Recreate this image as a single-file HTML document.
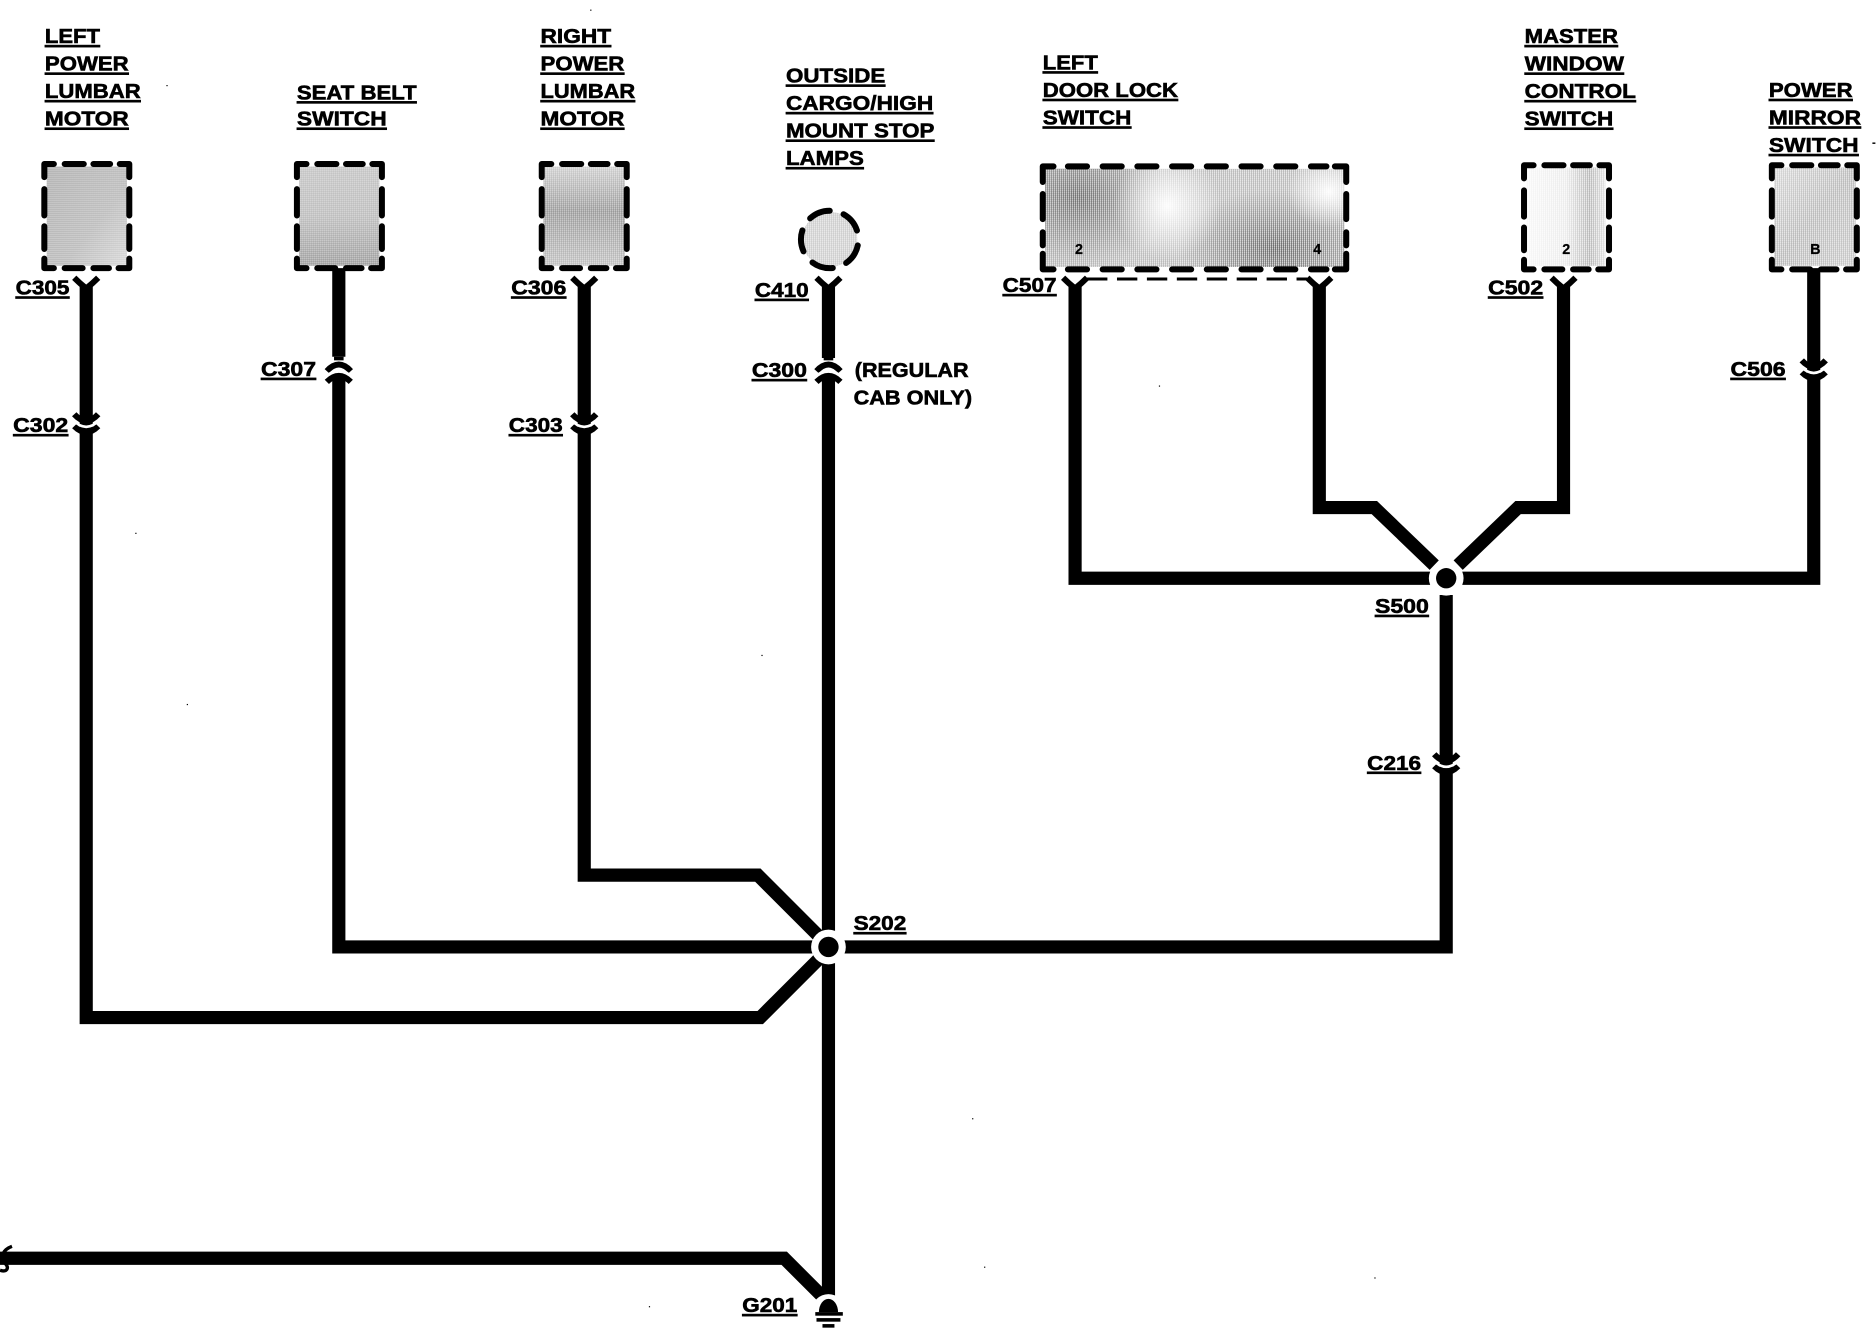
<!DOCTYPE html>
<html>
<head>
<meta charset="utf-8">
<style>
html,body{margin:0;padding:0;background:#fff}
svg{display:block}
text{font-family:"Liberation Sans",Arial,sans-serif;font-weight:bold;font-size:17px;fill:#000;stroke:#000;stroke-width:.5px}
.u{text-decoration:underline}
.n{font-size:12px;stroke-width:.2px}
.w{fill:none;stroke:#000;stroke-width:11;stroke-linejoin:miter}
.d{fill:none;stroke:#000;stroke-width:5;stroke-linecap:round;stroke-linejoin:round}
.a{fill:none;stroke:#000;stroke-width:5;stroke-linecap:butt}
.g{fill:none;stroke:#fff;stroke-width:2.2}
</style>
</head>
<body>
<svg xmlns="http://www.w3.org/2000/svg" width="1876" height="1328" viewBox="0 0 1567 1109.28">
<defs>
<pattern id="p" width="1.67" height="1.67" patternUnits="userSpaceOnUse"><circle cx=".84" cy=".84" r=".62" fill="#fff"/></pattern>
<linearGradient id="g1" x1="0" y1="0" x2="1" y2="1"><stop offset="0" stop-color="#8a8a8a"/><stop offset=".6" stop-color="#9c9c9c"/><stop offset="1" stop-color="#c4c4c4"/></linearGradient>
<linearGradient id="g2" x1="0" y1="0" x2="0" y2="1"><stop offset="0" stop-color="#aaa"/><stop offset=".5" stop-color="#a0a0a0"/><stop offset="1" stop-color="#747474"/></linearGradient>
<linearGradient id="g3" x1="0" y1="0" x2="0" y2="1"><stop offset="0" stop-color="#bbb"/><stop offset=".45" stop-color="#747474"/><stop offset="1" stop-color="#aaa"/></linearGradient>
<linearGradient id="g5" x1="0" y1="0" x2="1" y2="0"><stop offset="0" stop-color="#f6f6f6"/><stop offset=".5" stop-color="#e8e8e8"/><stop offset=".8" stop-color="#aaa"/><stop offset="1" stop-color="#ddd"/></linearGradient>
<linearGradient id="g6" x1="0" y1="0" x2="1" y2="1"><stop offset="0" stop-color="#ccc"/><stop offset=".5" stop-color="#aaa"/><stop offset="1" stop-color="#bbb"/></linearGradient>
<radialGradient id="dk" cx=".5" cy=".5" r=".5"><stop offset="0" stop-color="#444" stop-opacity=".9"/><stop offset="1" stop-color="#444" stop-opacity="0"/></radialGradient>
<radialGradient id="lt" cx=".5" cy=".5" r=".5"><stop offset="0" stop-color="#fff" stop-opacity=".95"/><stop offset="1" stop-color="#fff" stop-opacity="0"/></radialGradient>
<clipPath id="dc"><rect x="873" y="141" width="250" height="82"/></clipPath>
<g id="bx">
<path class="d" d="M0 11V0H8M17 0H33M41 0H55M63 0H71V11M71 21V43M71 52V71M71 79V87H62M54 87H41M32 87H17M8 87H0V79M0 71V52M0 43V21"/>
</g>
<g id="top"><path class="a" d="M-10 -4Q-5 1 0 5Q5 1 10 -4"/><path d="M-5 0L0 4L5 0V8H-5Z"/></g>
<g id="dn"><path class="a" d="M-10 -8Q0 3 10 -8"/><path class="a" d="M-10 2Q0 12 10 2"/><path class="g" d="M-11 -3Q0 8 11 -3"/></g>
<g id="up"><path class="a" d="M-10 4Q0 -7 10 4"/><path class="a" d="M-10 13Q0 3 10 13"/><path d="M-4 -8H4V-5H-4Z"/><path class="g" d="M-11 9Q0 -2 11 9"/></g>
</defs>

<!-- component fills -->
<rect x="39" y="139" width="67" height="83" fill="url(#g1)"/><rect x="39" y="139" width="67" height="83" fill="url(#p)"/>
<rect x="250" y="139" width="67" height="83" fill="url(#g2)"/><rect x="250" y="139" width="67" height="83" fill="url(#p)"/>
<rect x="454" y="139" width="68" height="83" fill="url(#g3)"/><rect x="454" y="139" width="68" height="83" fill="url(#p)"/>
<g clip-path="url(#dc)">
<rect x="873" y="141" width="250" height="82" fill="#aeaeae"/>
<ellipse cx="900" cy="165" rx="75" ry="60" fill="url(#dk)"/>
<ellipse cx="1065" cy="208" rx="80" ry="50" fill="url(#dk)"/>
<ellipse cx="975" cy="172" rx="45" ry="45" fill="url(#lt)"/>
<ellipse cx="1110" cy="160" rx="35" ry="30" fill="url(#lt)"/>
<rect x="873" y="141" width="250" height="82" fill="url(#p)"/>
</g>
<rect x="1275" y="140" width="66" height="82" fill="url(#g5)"/><rect x="1275" y="140" width="66" height="82" fill="url(#p)"/>
<rect x="1482" y="140" width="68" height="82" fill="url(#g6)"/><rect x="1482" y="140" width="68" height="82" fill="url(#p)"/>
<circle cx="693" cy="200" r="23" fill="#c0c0c0"/><circle cx="693" cy="200" r="23" fill="url(#p)"/>

<!-- dashed outlines -->
<use href="#bx" x="37" y="137"/>
<use href="#bx" x="248" y="137"/>
<use href="#bx" x="452.5" y="137"/>
<use href="#bx" x="1273" y="138"/>
<use href="#bx" x="1480" y="138"/>
<path class="d" d="M871 152V139H880M1115 139H1124.5V152M1124.5 212V225H1115M880 225H871V212"/>
<path class="d" stroke-dasharray="16 13" d="M892 139H1108"/>
<path class="d" stroke-dasharray="16 13" d="M892 225H1108"/>
<path class="d" stroke-dasharray="21 11" d="M871 162V205"/>
<path class="d" stroke-dasharray="21 11" d="M1124.5 162V205"/>
<ellipse cx="693" cy="200" rx="24" ry="24" class="d" stroke-dasharray="18 12" stroke-dashoffset="25"/>
<path d="M908 233H1092" fill="none" stroke="#000" stroke-width="2.5" stroke-dasharray="17 8"/>

<!-- wires -->
<path class="w" d="M72 238V850H635L690 795"/>
<path class="w" d="M283 224V298M283 316V791H692"/>
<path class="w" d="M488 238V731H633L690 788"/>
<path class="w" d="M692 238V299M692 316V1090"/>
<path class="w" d="M692 791H1208V497"/>
<path class="w" d="M0 1051H655L692 1088"/>
<path class="w" d="M898 238V483H1515V224"/>
<path class="w" d="M1102 238V424H1148L1198 472"/>
<path class="w" d="M1306 238V424H1268L1218 472"/>

<!-- splices -->
<circle cx="692" cy="791" r="14.5" fill="#fff"/><circle cx="692" cy="791" r="8.5"/>
<circle cx="1208" cy="483" r="14.5" fill="#fff"/><circle cx="1208" cy="483" r="8.5"/>

<!-- connectors -->
<use href="#top" x="72" y="236"/>
<use href="#top" x="488" y="236"/>
<use href="#top" x="692" y="236"/>
<use href="#top" x="898" y="236"/>
<use href="#top" x="1102" y="236"/>
<use href="#top" x="1306" y="236"/>
<use href="#dn" x="72" y="354"/>
<use href="#dn" x="488" y="354"/>
<use href="#dn" x="1515" y="309"/>
<use href="#dn" x="1208" y="638"/>
<use href="#up" x="283" y="306"/>
<use href="#up" x="692" y="306"/>

<!-- ground -->
<circle cx="692" cy="1095" r="14" fill="#fff"/>
<path d="M684 1096A8 11 0 0 1 700 1096Z"/>
<rect x="681" y="1096" width="23" height="3"/>
<rect x="682" y="1101" width="20" height="3"/>
<rect x="687" y="1106" width="10" height="3"/>

<!-- left squiggle -->
<path d="M10 1041C2 1044 0 1050 4 1055C8 1059 6 1063 0 1061" fill="none" stroke="#000" stroke-width="2.8"/>

<!-- labels -->
<text class="u" x="37.5" y="36" textLength="46" lengthAdjust="spacingAndGlyphs">LEFT</text>
<text class="u" x="37.5" y="59" textLength="70" lengthAdjust="spacingAndGlyphs">POWER</text>
<text class="u" x="37.5" y="82" textLength="80" lengthAdjust="spacingAndGlyphs">LUMBAR</text>
<text class="u" x="37.5" y="105" textLength="70" lengthAdjust="spacingAndGlyphs">MOTOR</text>
<text class="u" x="248" y="83" textLength="100" lengthAdjust="spacingAndGlyphs">SEAT BELT</text>
<text class="u" x="248" y="105" textLength="75" lengthAdjust="spacingAndGlyphs">SWITCH</text>
<text class="u" x="451.5" y="36" textLength="59" lengthAdjust="spacingAndGlyphs">RIGHT</text>
<text class="u" x="451.5" y="59" textLength="70" lengthAdjust="spacingAndGlyphs">POWER</text>
<text class="u" x="451.5" y="82" textLength="79" lengthAdjust="spacingAndGlyphs">LUMBAR</text>
<text class="u" x="451.5" y="105" textLength="70" lengthAdjust="spacingAndGlyphs">MOTOR</text>
<text class="u" x="656.5" y="69" textLength="83" lengthAdjust="spacingAndGlyphs">OUTSIDE</text>
<text class="u" x="656.5" y="92" textLength="123" lengthAdjust="spacingAndGlyphs">CARGO/HIGH</text>
<text class="u" x="656.5" y="115" textLength="124" lengthAdjust="spacingAndGlyphs">MOUNT STOP</text>
<text class="u" x="656.5" y="138" textLength="65" lengthAdjust="spacingAndGlyphs">LAMPS</text>
<text class="u" x="871" y="58" textLength="46" lengthAdjust="spacingAndGlyphs">LEFT</text>
<text class="u" x="871" y="81" textLength="113" lengthAdjust="spacingAndGlyphs">DOOR LOCK</text>
<text class="u" x="871" y="104" textLength="74" lengthAdjust="spacingAndGlyphs">SWITCH</text>
<text class="u" x="1273.5" y="36" textLength="78" lengthAdjust="spacingAndGlyphs">MASTER</text>
<text class="u" x="1273.5" y="59" textLength="83" lengthAdjust="spacingAndGlyphs">WINDOW</text>
<text class="u" x="1273.5" y="82" textLength="93" lengthAdjust="spacingAndGlyphs">CONTROL</text>
<text class="u" x="1273.5" y="105" textLength="74" lengthAdjust="spacingAndGlyphs">SWITCH</text>
<text class="u" x="1477.5" y="81" textLength="70" lengthAdjust="spacingAndGlyphs">POWER</text>
<text class="u" x="1477.5" y="104" textLength="77" lengthAdjust="spacingAndGlyphs">MIRROR</text>
<text class="u" x="1477.5" y="127" textLength="75" lengthAdjust="spacingAndGlyphs">SWITCH</text>

<text class="u" x="13" y="246" textLength="45" lengthAdjust="spacingAndGlyphs">C305</text>
<text class="u" x="11" y="361" textLength="46" lengthAdjust="spacingAndGlyphs">C302</text>
<text class="u" x="218" y="314" textLength="46" lengthAdjust="spacingAndGlyphs">C307</text>
<text class="u" x="427" y="246" textLength="46" lengthAdjust="spacingAndGlyphs">C306</text>
<text class="u" x="425" y="361" textLength="45" lengthAdjust="spacingAndGlyphs">C303</text>
<text class="u" x="630.5" y="248" textLength="45" lengthAdjust="spacingAndGlyphs">C410</text>
<text class="u" x="628" y="315" textLength="46" lengthAdjust="spacingAndGlyphs">C300</text>
<text x="714" y="315" textLength="95" lengthAdjust="spacingAndGlyphs">(REGULAR</text>
<text x="713" y="338" textLength="99" lengthAdjust="spacingAndGlyphs">CAB ONLY)</text>
<text class="u" x="837.5" y="244" textLength="45" lengthAdjust="spacingAndGlyphs">C507</text>
<text class="u" x="1243" y="246" textLength="46" lengthAdjust="spacingAndGlyphs">C502</text>
<text class="u" x="1445.5" y="314" textLength="46" lengthAdjust="spacingAndGlyphs">C506</text>
<text class="u" x="1148.5" y="512" textLength="45" lengthAdjust="spacingAndGlyphs">S500</text>
<text class="u" x="1142" y="643" textLength="45" lengthAdjust="spacingAndGlyphs">C216</text>
<text class="u" x="713" y="777" textLength="44" lengthAdjust="spacingAndGlyphs">S202</text>
<text class="u" x="620" y="1096" textLength="46" lengthAdjust="spacingAndGlyphs">G201</text>

<text class="n" x="898" y="212">2</text>
<text class="n" x="1097" y="212">4</text>
<text class="n" x="1305" y="212">2</text>
<text class="n" x="1512" y="212">B</text>

<!-- specks -->
<g fill="#000">
<rect x="1564" y="119" width="2.5" height="1.2"/>
<rect x="139" y="71" width="1" height="1"/>
<rect x="113" y="445" width="1" height="1"/>
<rect x="156" y="588" width="1" height="1"/>
<rect x="636" y="547" width="1" height="1"/>
<rect x="968" y="322" width="1" height="1"/>
<rect x="812" y="934" width="1" height="1"/>
<rect x="822" y="1058" width="1" height="1"/>
<rect x="1148" y="1067" width="1" height="1"/>
<rect x="542" y="1091" width="1" height="1"/>
<rect x="493" y="8" width="1" height="1"/>
</g>
</svg>
</body>
</html>
